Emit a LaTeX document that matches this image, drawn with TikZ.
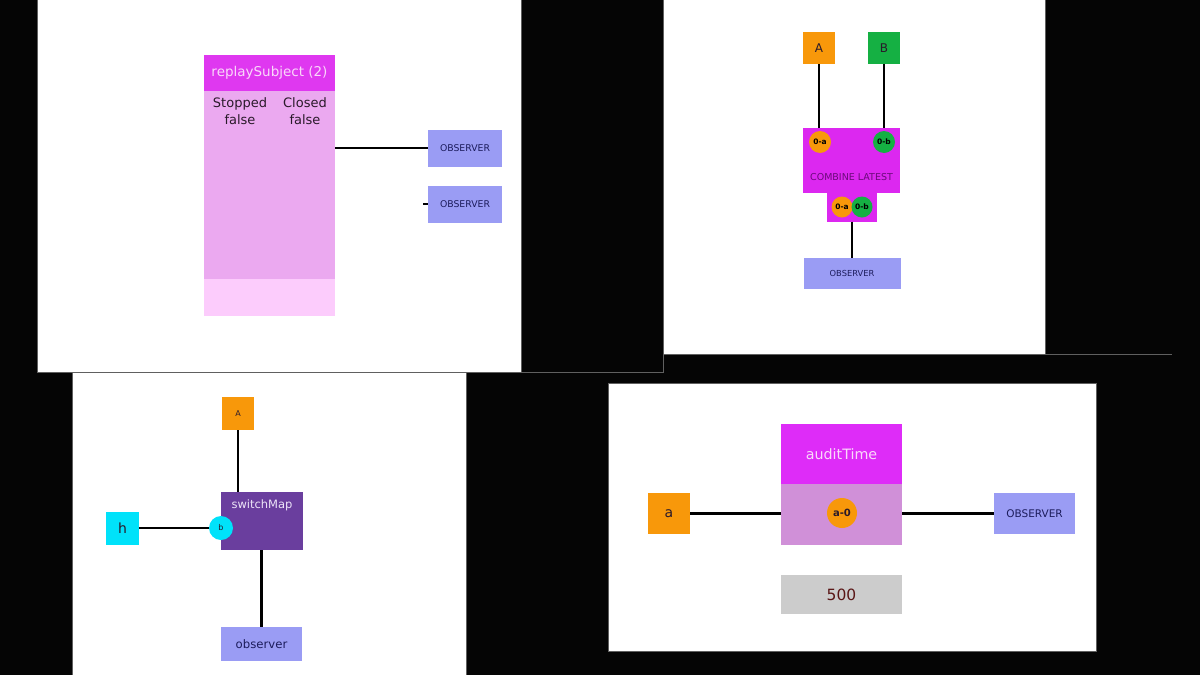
\documentclass[tikz,border=0pt]{standalone}
\usepackage{fontspec}
\setmainfont{DejaVu Sans}
\newcommand\fsz[2]{\fontsize{#1}{#2}\selectfont}
\definecolor{bgblack}{HTML}{050505}
\definecolor{panelgrey}{HTML}{606060}
\definecolor{obs}{HTML}{9A9CF4}
\definecolor{obstext}{HTML}{1C1C5C}
\definecolor{mag}{HTML}{DF38F0}
\definecolor{magbody}{HTML}{EBA9F0}
\definecolor{magfoot}{HTML}{FCCCFC}
\definecolor{clmag}{HTML}{DC28F0}
\definecolor{cltext}{HTML}{6A0A7A}
\definecolor{orng}{HTML}{F8980A}
\definecolor{grn}{HTML}{15B043}
\definecolor{purp}{HTML}{6A3E9E}
\definecolor{cyn}{HTML}{00E2FA}
\definecolor{atmag}{HTML}{DE2CF8}
\definecolor{atbody}{HTML}{D090D8}
\definecolor{greybox}{HTML}{CCCCCC}
\definecolor{redtext}{HTML}{5A1616}
\definecolor{lightpink}{HTML}{FAD8FA}
\definecolor{smtext}{HTML}{ECE4F8}
\definecolor{darktext}{HTML}{2A1A2A}
\tikzset{
  blk/.style={rectangle, inner sep=0pt, outer sep=0pt},
  obsbox/.style={blk, fill=obs, text=obstext},
  dot/.style={circle, inner sep=0pt, outer sep=0pt},
  wire/.style={line width=2.2pt, black},
  panel/.style={fill=white, draw=panelgrey, line width=0.8pt},
  edge/.style={draw=panelgrey, line width=0.8pt},
}
\begin{document}
\begin{tikzpicture}[x=1pt,y=-1pt]
\useasboundingbox (0,0) rectangle (1200,675);
\fill[bgblack] (0,0) rectangle (1200,675);
% panels
\draw[panel] (37,-2) rectangle (521,372);
\draw[panel] (663,-2) rectangle (1045,354);
\draw[edge] (521,372) -- (663,372) -- (663,354);
\draw[edge] (1045,354) -- (1172,354);
\draw[panel] (72,372) rectangle (466,677);
\draw[panel] (608,383) rectangle (1096,651);

% ---------- top-left: replaySubject ----------
\node[blk, fill=mag, minimum width=131pt, minimum height=36pt, text=lightpink, font=\fsz{13.5}{16}] (rshead) at (269.5,73) {replaySubject (2)};
\node[blk, fill=magbody, minimum width=131pt, minimum height=188pt] (rsbody) at (269.5,185) {};
\node[blk, fill=magfoot, minimum width=131pt, minimum height=37pt] (rsfoot) at (269.5,297.5) {};
\node[text=darktext, align=center, inner sep=0pt, font=\fsz{13}{17}] (stopped) at (240,111) {Stopped\\false};
\node[text=darktext, align=center, inner sep=0pt, font=\fsz{13}{17}] (closed) at (305,111) {Closed\\false};
\node[obsbox, minimum width=74pt, minimum height=37pt, font=\fsz{9.3}{11}] (obs1) at (465,148) {OBSERVER};
\node[obsbox, minimum width=74pt, minimum height=37pt, font=\fsz{9.3}{11}] (obs2) at (465,204) {OBSERVER};
\draw[wire] (rsbody.east |- obs1.west) -- (obs1.west);
\coordinate (stub) at (423,204);
\draw[wire] (stub) -- (obs2.west);

% ---------- top-right: combineLatest ----------
\node[blk, fill=orng, minimum width=32pt, minimum height=32pt, text=darktext, font=\fsz{12}{14}] (A1) at (819,48) {A};
\node[blk, fill=grn, minimum width=32pt, minimum height=32pt, text=darktext, font=\fsz{12}{14}] (B1) at (884,48) {B};
\node[blk, fill=clmag, minimum width=97pt, minimum height=65pt] (cl) at (851.5,160.5) {};
\node[text=cltext, inner sep=0pt, font=\fsz{9.5}{11}] (cltxt) at (851.5,177) {COMBINE LATEST};
\node[blk, fill=clmag, minimum width=50pt, minimum height=29pt] (tab) at (852,207) {};
\node[dot, fill=orng, minimum size=22pt, font=\fsz{7.5}{9}\bfseries] (ca) at (820,142) {0-a};
\node[dot, fill=grn, minimum size=22pt, font=\fsz{7.5}{9}\bfseries] (cb) at (884,142) {0-b};
\node[dot, fill=orng, minimum size=21pt, font=\fsz{7.5}{9}\bfseries] (ta) at (842,207) {0-a};
\node[dot, fill=grn, minimum size=21pt, font=\fsz{7.5}{9}\bfseries] (tb) at (862,207) {0-b};
\node[obsbox, minimum width=97pt, minimum height=31pt, font=\fsz{8.3}{10}] (obs3) at (852,273.5) {OBSERVER};
\draw[wire] (A1.south) -- (A1.south |- cl.north);
\draw[wire] (B1.south) -- (B1.south |- cl.north);
\draw[wire] (tab.south) -- (obs3.north);

% ---------- bottom-left: switchMap ----------
\node[blk, fill=orng, minimum width=32pt, minimum height=33pt, text=darktext, font=\fsz{8}{10}] (A2) at (238,413.5) {A};
\node[blk, fill=purp, minimum width=82pt, minimum height=58pt] (sm) at (262,521) {};
\node[text=smtext, inner sep=0pt, font=\fsz{11.5}{14}] (smtxt) at (262,505) {switchMap};
\node[blk, fill=cyn, minimum width=33pt, minimum height=33pt, text=darktext, font=\fsz{14}{16}] (h) at (122.5,528) {h};
\node[dot, fill=cyn, minimum size=24pt, text=darktext, font=\fsz{8}{10}] (cbb) at (221,528) {b};
\node[obsbox, minimum width=81pt, minimum height=34pt, font=\fsz{11.7}{14}] (obs4) at (261.5,644) {observer};
\draw[wire] (A2.south) -- (A2.south |- sm.north);
\draw[wire] (h.east) -- (cbb.west);
\draw[wire] (obs4.north |- sm.south) -- (obs4.north);

% ---------- bottom-right: auditTime ----------
\node[blk, fill=atmag, minimum width=121pt, minimum height=60pt, text=lightpink, font=\fsz{14.3}{17}] (at) at (841.5,454) {auditTime};
\node[blk, fill=atbody, minimum width=121pt, minimum height=61pt] (atb) at (841.5,514.5) {};
\node[dot, fill=orng, minimum size=30pt, text=darktext, font=\fsz{10}{12}\bfseries] (a0) at (842,513) {a-0};
\node[blk, fill=orng, minimum width=42pt, minimum height=41pt, text=darktext, font=\fsz{14}{16}] (a) at (669,513.5) {a};
\node[obsbox, minimum width=81pt, minimum height=41pt, font=\fsz{10.5}{12}] (obs5) at (1034.5,513.5) {OBSERVER};
\node[blk, fill=greybox, minimum width=121pt, minimum height=39pt, text=redtext, font=\fsz{15.5}{18}] (t500) at (841.5,594.5) {500};
\draw[wire] (a.east) -- (atb.west |- a.east);
\draw[wire] (atb.east |- obs5.west) -- (obs5.west);
\end{tikzpicture}
\end{document}
